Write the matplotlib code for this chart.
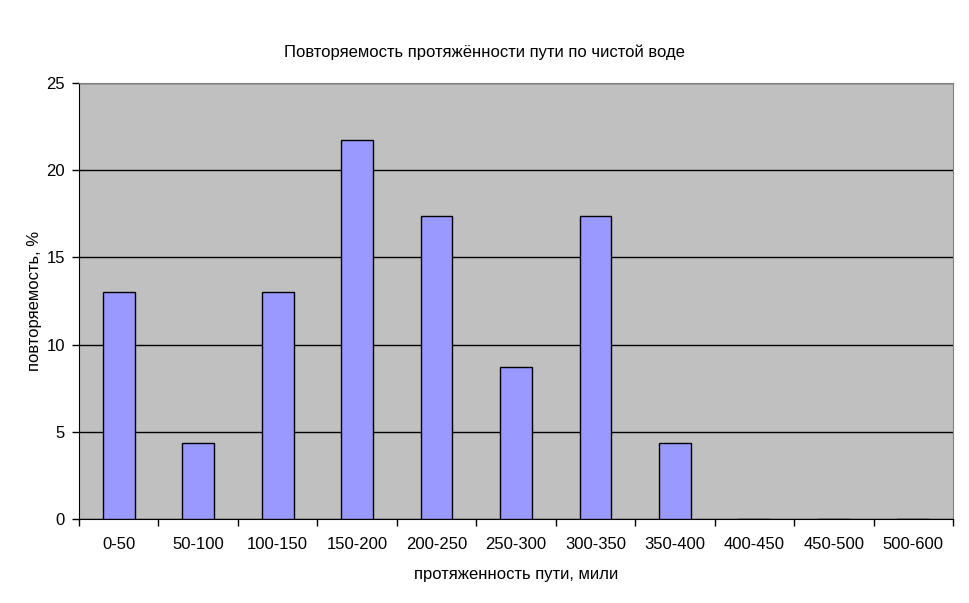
import matplotlib
matplotlib.use('Agg')
import matplotlib.pyplot as plt
import numpy as np

plt.rcParams['font.family'] = ['Liberation Sans', 'DejaVu Sans']

categories = ['0-50', '50-100', '100-150', '150-200', '200-250', '250-300',
              '300-350', '350-400', '400-450', '450-500', '500-600']
values = [13.04, 4.35, 13.04, 21.74, 17.39, 8.70, 17.39, 4.35, 0, 0, 0]
yticks = [0, 5, 10, 15, 20, 25]

fig = plt.figure(figsize=(9.69, 6.03), dpi=100)
ax = fig.add_axes([0.0815, 0.1393, 0.9020, 0.7231])
ax.set_facecolor('#C0C0C0')

x = np.arange(len(categories))
ax.bar(x, values, width=0.4, color='#9999FF', edgecolor='black', linewidth=1, zorder=3)

ax.set_xlim(-0.5, len(categories) - 0.5)
ax.set_ylim(0, 25)
ax.set_yticks(yticks)
ax.set_yticklabels([str(t) for t in yticks], fontsize=12)
ax.yaxis.grid(True, color='black', linewidth=1, zorder=1)
ax.set_axisbelow(True)

ax.set_xticks(x)
ax.set_xticklabels(categories, fontsize=12)
ax.set_xticks(np.arange(len(categories) + 1) - 0.5, minor=True)
ax.tick_params(axis='x', which='major', length=0, pad=13)
ax.tick_params(axis='x', which='minor', length=5, width=1, direction='out')
ax.tick_params(axis='y', length=5, width=1, direction='out', pad=5)

for side in ['top', 'right']:
    ax.spines[side].set_color('#808080')
for side in ['left', 'bottom']:
    ax.spines[side].set_color('black')

ax.set_xlabel('протяженность пути, мили', fontsize=12, labelpad=11)
ax.set_ylabel('повторяемость, %', fontsize=12, labelpad=3)
fig.text(0.5, 0.913, 'Повторяемость протяжённости пути по чистой воде',
         ha='center', va='center', fontsize=12)

fig.savefig('out.png', dpi=100)
